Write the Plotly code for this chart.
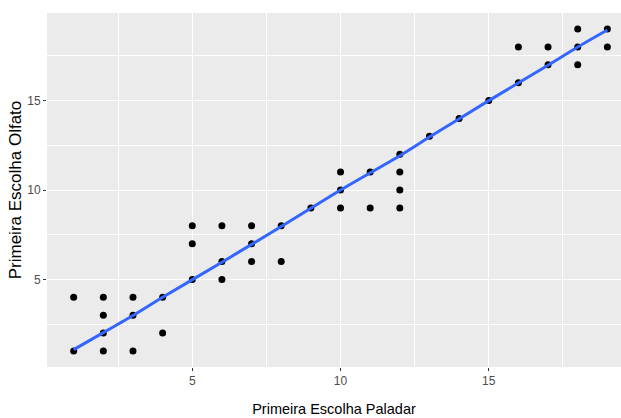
import plotly.graph_objects as go

paladar = [1, 1, 2, 2, 2, 2, 3, 3, 3, 4, 4, 5, 5, 5, 6, 6, 6, 7, 7, 7, 8, 8, 9,
           10, 10, 10, 11, 11, 12, 12, 12, 12, 13, 14, 15, 16, 16, 17, 17,
           18, 18, 18, 19, 19]
olfato = [1, 4, 4, 3, 2, 1, 4, 3, 1, 4, 2, 8, 7, 5, 8, 6, 5, 8, 7, 6, 8, 6, 9,
          11, 10, 9, 11, 9, 12, 11, 10, 9, 13, 14, 15, 18, 16, 18, 17,
          19, 18, 17, 19, 18]
# smoothed fit line
smooth_x = [1, 2, 3, 4, 6, 8, 10, 12, 13, 15, 17, 18, 19]
smooth_y = [1.07, 2.02, 2.98, 4.0, 5.96, 7.96, 10.0, 11.92, 12.96, 15.0, 16.98, 18.0, 18.95]
x_ticks = [5, 10, 15]
y_ticks = [5, 10, 15]

fig = go.Figure()
fig.add_trace(go.Scatter(x=paladar, y=olfato, mode="markers",
                         marker=dict(color="black", size=7), showlegend=False,
                         hoverinfo="skip"))
fig.add_trace(go.Scatter(x=smooth_x, y=smooth_y, mode="lines",
                         line=dict(color="#3366FF", width=3, shape="spline", smoothing=0.6),
                         showlegend=False, hoverinfo="skip"))

axis_common = dict(
    showgrid=True, gridcolor="white", gridwidth=1.2,
    zeroline=False, showline=False,
    ticks="outside", ticklen=3, tickcolor="#333333", tickwidth=1,
    tickfont=dict(family="Liberation Sans, Arial", size=12, color="#4D4D4D"),
    minor=dict(dtick=2.5, tick0=0, showgrid=True, gridcolor="white", gridwidth=0.6, ticks=""),
)

fig.update_layout(
    width=621, height=418,
    margin=dict(l=47, r=0, t=13, b=51),
    paper_bgcolor="white", plot_bgcolor="#EBEBEB",
    xaxis=dict(range=[0.1, 19.46], tickvals=x_ticks,
               title=dict(text="Primeira Escolha Paladar", standoff=16,
                          font=dict(family="Liberation Sans, Arial", size=14.5, color="black")),
               **axis_common),
    yaxis=dict(range=[0.1, 19.9], tickvals=y_ticks,
               title=dict(text="Primeira Escolha Olfato", standoff=1,
                          font=dict(family="Liberation Sans, Arial", size=17, color="black")),
               **axis_common),
)

fig.write_html("out.html")
